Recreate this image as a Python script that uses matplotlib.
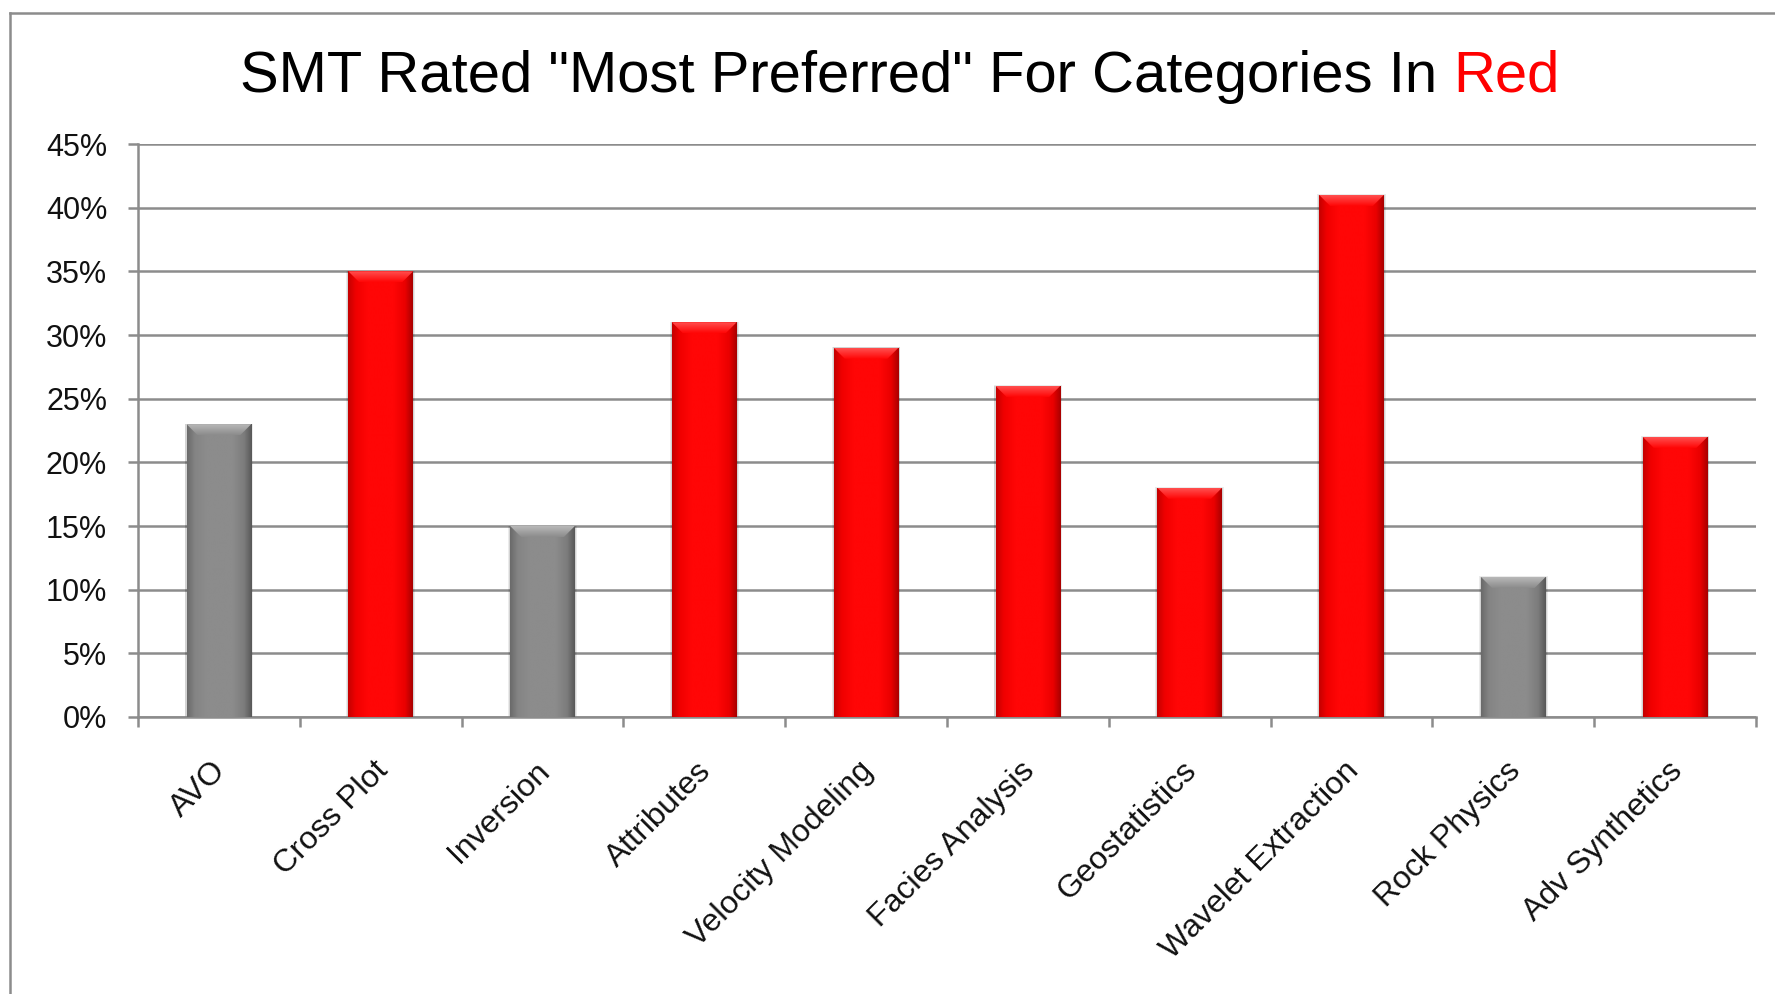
import matplotlib
matplotlib.use('Agg')
import matplotlib.pyplot as plt
import numpy as np
from matplotlib.colors import LinearSegmentedColormap
from matplotlib.patches import Polygon, Rectangle
from matplotlib.lines import Line2D
from matplotlib.ticker import PercentFormatter
from matplotlib.transforms import ScaledTranslation

# ---- data ----
categories = ["AVO", "Cross Plot", "Inversion", "Attributes", "Velocity Modeling",
              "Facies Analysis", "Geostatistics", "Wavelet Extraction", "Rock Physics",
              "Adv Synthetics"]
values = [0.23, 0.35, 0.15, 0.31, 0.29, 0.26, 0.18, 0.41, 0.11, 0.22]
highlighted = [False, True, False, True, True, True, True, True, False, True]
y_ticks = [0.0, 0.05, 0.10, 0.15, 0.20, 0.25, 0.30, 0.35, 0.40, 0.45]
title_main = 'SMT Rated "Most Preferred" For Categories In'
title_red = 'Red'

plt.rcParams['font.family'] = ['Liberation Sans', 'DejaVu Sans']

W, H = 1775, 994
fig = plt.figure(figsize=(W / 100, H / 100), dpi=100)
fig.patch.set_facecolor('white')

ax = fig.add_axes([138 / W, 1 - 717 / H, (1756 - 138) / W, (717 - 144) / H])
grid_c = '#8c8c8c'

x = np.arange(len(categories))
bar_w = 0.40
cols = ['#ff0000' if h else '#8a8a8a' for h in highlighted]
bars = ax.bar(x, values, width=bar_w, color=cols, zorder=3, linewidth=0)

red_cmap = LinearSegmentedColormap.from_list(
    'r', [(0, '#c40000'), (0.12, '#f00000'), (0.3, '#ff0606'), (0.7, '#ff0606'),
          (0.88, '#ea0000'), (1, '#a80000')])
gray_cmap = LinearSegmentedColormap.from_list(
    'g', [(0, '#6a6a6a'), (0.12, '#848484'), (0.3, '#8c8c8c'), (0.7, '#8c8c8c'),
          (0.88, '#7c7c7c'), (1, '#585858')])
red_bev = LinearSegmentedColormap.from_list('rb', ['#ff0606', '#ff5050'])
gray_bev = LinearSegmentedColormap.from_list('gb', ['#8c8c8c', '#b8b8b8'])
grad = np.linspace(0, 1, 256).reshape(1, -1)
vgrad = np.linspace(1, 0, 64).reshape(-1, 1)

px_per_unit = (717 - 144) / 0.45
for b, h in zip(bars, highlighted):
    x0, w, top = b.get_x(), b.get_width(), b.get_height()
    # soft shadow
    for k, a in [(0.012, 0.08), (0.007, 0.10)]:
        ax.add_patch(Rectangle((x0 - k, 0), w + 2 * k, top + k * 0.03,
                               color='#000000', alpha=a, lw=0, zorder=2.5))
    im = ax.imshow(grad, extent=[x0, x0 + w, 0, top], aspect='auto',
                   cmap=red_cmap if h else gray_cmap, zorder=3.1, interpolation='bilinear')
    im.set_clip_path(b)
    bev_h = 11 / px_per_unit
    ins = w * 0.17
    poly = Polygon([[x0, top], [x0 + w, top], [x0 + w - ins, top - bev_h],
                    [x0 + ins, top - bev_h]], closed=True, facecolor='none',
                   lw=0, zorder=3.2)
    ax.add_patch(poly)
    imb = ax.imshow(vgrad, extent=[x0, x0 + w, top - bev_h, top], aspect='auto',
                    cmap=red_bev if h else gray_bev, zorder=3.2, interpolation='bilinear')
    imb.set_clip_path(poly)

ax.set_xlim(-0.5, len(categories) - 0.5)
ax.set_ylim(0, 0.45)
ax.set_yticks(y_ticks)
ax.yaxis.set_major_formatter(PercentFormatter(1.0, decimals=0))
ax.yaxis.grid(True, color=grid_c, lw=1.8, zorder=0)
ax.set_axisbelow(True)
for s in ['top', 'right']:
    ax.spines[s].set_visible(False)
for s in ['left', 'bottom']:
    ax.spines[s].set_color(grid_c)
    ax.spines[s].set_linewidth(1.8)
ax.tick_params(axis='y', length=7.2, width=1.8, color=grid_c, pad=15,
               labelsize=22, labelcolor='#111111')

ax.set_xticks(x)
ax.set_xticklabels(categories, rotation=45, ha='right', rotation_mode='anchor',
                   fontsize=23, color='#111111')
ax.tick_params(axis='x', which='major', length=0, pad=28)
shift = ScaledTranslation(-8 / 100, 0, fig.dpi_scale_trans)
for lab in ax.get_xticklabels():
    lab.set_transform(lab.get_transform() + shift)
ax.set_xticks(np.arange(-0.5, len(categories), 1.0), minor=True)
ax.tick_params(axis='x', which='minor', length=7.2, width=1.8, color=grid_c)

# chart-area border (left & top visible in crop)
fig.add_artist(Line2D([10 / W, 10 / W], [0, 1 - 13 / H], transform=fig.transFigure,
                      color=grid_c, lw=1.8))
fig.add_artist(Line2D([10 / W, 1], [1 - 13 / H, 1 - 13 / H], transform=fig.transFigure,
                      color=grid_c, lw=1.8))

# title in two colours
fs_title = 41.8
fig.canvas.draw()
r = fig.canvas.get_renderer()
base_y = 1 - 92 / H
t1 = fig.text(0, base_y, title_main, fontsize=fs_title, va='baseline', color='black')
t2 = fig.text(0, base_y, title_red, fontsize=fs_title, va='baseline', color='#ff0000')
tmp = fig.text(0, 0, 'In Red', fontsize=fs_title)
tmp_a = fig.text(0, 0, 'In', fontsize=fs_title)
tmp_b = fig.text(0, 0, 'Red', fontsize=fs_title)
sp = (tmp.get_window_extent(r).width - tmp_a.get_window_extent(r).width
      - tmp_b.get_window_extent(r).width)
for t in (tmp, tmp_a, tmp_b):
    t.remove()
w1 = t1.get_window_extent(r).width
w2 = t2.get_window_extent(r).width
total = w1 + sp + w2
cx = 900
start = cx - total / 2
t1.set_x(start / W)
t2.set_x((start + w1 + sp) / W)

fig.savefig('out.png', dpi=100)
